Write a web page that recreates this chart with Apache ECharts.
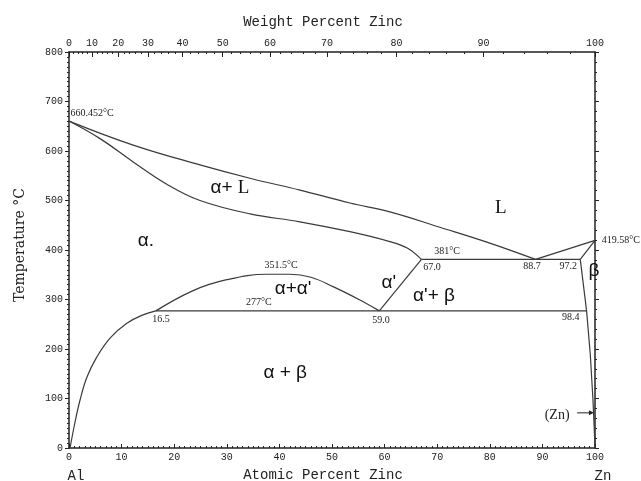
<!DOCTYPE html>
<html><head><meta charset="utf-8">
<script src="https://cdn.jsdelivr.net/npm/echarts@6/dist/echarts.min.js"></script>
<style>html,body{margin:0;padding:0;background:#fff}#c{width:641px;height:481px}</style>
</head><body><div id="c"></div>
<script>
// ---- data (atomic percent Zn, temperature °C) ----
const liquidusAl = [[0,660.452],[12.2,612],[24.9,572],[34.4,545],[43.9,521],[53.4,495],[61.0,477],[70.5,446],[80.0,414],[88.7,381]];
const liquidusZn = [[88.7,381],[100,419.58]];
const solidusAl = [[0,660.452],[5.9,625],[12.2,578],[18.6,533],[24.9,500],[34.4,473],[43.9,457],[53.4,437],[61.0,417],[64.3,404],[67.0,381]];
const eutectic = [[67.0,381],[97.2,381]];
const solidusZn = [[97.2,381],[100,419.58]];
const alphaPrimeBoundary = [[67.0,381],[59.0,277]];
const monotectoid = [[16.5,277],[98.4,277]];
const gapDome = [[16.5,277],[23.6,318],[30.0,340],[37.6,351],[42.0,351],[46.0,345],[50.2,326],[55.3,299],[59.0,277]];
const solvusAl = [[0.2,0],[1.1,50],[2.1,97],[3.4,143],[5.3,184],[7.8,222],[11.0,252],[14.1,269],[16.5,277]];
const solvusZn = [[97.2,381],[98.4,277],[99.1,190],[99.6,100],[99.85,40],[100,0]];

// tick labels
const weightTicks = [0,10,20,30,40,50,60,70,80,90,100];
const atomicTicks = [0,10,20,30,40,50,60,70,80,90,100];
const tempTicks = [0,100,200,300,400,500,600,700,800];

// annotations (data coords)
const annotations = [
  {text:'660.452°C', at:[0.3,677], kind:'small', align:'left'},
  {text:'351.5°C', at:[40.3,368], kind:'small'},
  {text:'277°C', at:[36.1,295], kind:'small'},
  {text:'381°C', at:[71.9,398], kind:'small'},
  {text:'67.0', at:[69.0,364], kind:'small'},
  {text:'88.7', at:[88.0,366], kind:'small'},
  {text:'97.2', at:[94.9,366], kind:'small'},
  {text:'419.58°C', at:[101.3,420], kind:'small', align:'left'},
  {text:'16.5', at:[17.5,259], kind:'small'},
  {text:'59.0', at:[59.3,257], kind:'small'},
  {text:'98.4', at:[95.4,263], kind:'small'},
  {text:'α+ {s|L}', at:[30.6,525], kind:'big'},
  {text:'{s|L}', at:[82.1,485], kind:'big'},
  {text:'α.', at:[14.6,418], kind:'big'},
  {text:'α+α\'', at:[42.6,321], kind:'big'},
  {text:'α\'', at:[60.8,333], kind:'big'},
  {text:'α\'+ β', at:[69.4,307], kind:'big'},
  {text:'β', at:[99.8,358], kind:'big'},
  {text:'α + β', at:[41.1,152], kind:'big'},
  {text:'(Zn)', at:[92.8,67], kind:'mid'}
];

function wtToAt(w){ const a=w/65.38, b=(100-w)/26.98; return 100*a/(a+b); }
const weightAt = weightTicks.map(wtToAt);
const minorW = []; for(let w=0; w<=100; w+=2) minorW.push(w);
const minorAt = minorW.map(wtToAt);

const MONO = 'Liberation Mono';
const AX = '#222';
const LINE = '#3a3a3a';

const chart = echarts.init(document.getElementById('c'), null, {renderer:'canvas'});

function ser(data, smooth){
  return {type:'line', data:data, xAxisIndex:0, yAxisIndex:0, showSymbol:false, symbol:'none',
    smooth: smooth ? 0.4 : false,
    lineStyle:{color:LINE, width:1.2}, silent:true, animation:false, z:3};
}

chart.setOption({
  animation:false,
  backgroundColor:'#fff',
  grid:{left:69, right:46, top:52, bottom:33, containLabel:false},
  xAxis:[
    {type:'value', min:0, max:100, interval:10, position:'bottom',
     axisLine:{onZero:false, lineStyle:{color:AX, width:1.5}},
     axisTick:{inside:true, length:4, lineStyle:{color:AX}},
     minorTick:{show:true, splitNumber:10, length:2, lineStyle:{color:AX}},
     axisLabel:{fontFamily:MONO, fontSize:10, color:AX, margin:4},
     splitLine:{show:false}},
    {type:'value', min:0, max:100, position:'top',
     axisLine:{onZero:false, lineStyle:{color:AX, width:1.5}},
     axisTick:{inside:true, length:5, customValues:weightAt, lineStyle:{color:AX}},
     axisLabel:{fontFamily:MONO, fontSize:10, color:AX, margin:4, customValues:weightAt,
       formatter:function(v){ let best=0; for(let i=0;i<weightAt.length;i++){ if(Math.abs(weightAt[i]-v)<Math.abs(weightAt[best]-v)) best=i; } return String(weightTicks[best]); }},
     splitLine:{show:false}},
    {type:'value', min:0, max:100, position:'top',
     axisLine:{show:false, onZero:false},
     axisTick:{inside:true, length:2, customValues:minorAt, lineStyle:{color:AX}},
     axisLabel:{show:false},
     splitLine:{show:false}}
  ],
  yAxis:[
    {type:'value', min:0, max:800, interval:100, position:'left',
     axisLine:{show:true, onZero:false, lineStyle:{color:AX, width:1.5}},
     axisTick:{show:true, inside:false, length:4, lineStyle:{color:AX}},
     minorTick:{show:true, splitNumber:10, length:2, lineStyle:{color:AX}},
     axisLabel:{fontFamily:MONO, fontSize:10, color:AX, margin:6},
     splitLine:{show:false}},
    {type:'value', min:0, max:800, interval:100, position:'right',
     axisLine:{show:true, onZero:false, lineStyle:{color:AX, width:1.5}},
     axisTick:{show:true, inside:false, length:4, lineStyle:{color:AX}},
     minorTick:{show:true, splitNumber:5, length:2, lineStyle:{color:AX}},
     axisLabel:{show:false},
     splitLine:{show:false}}
  ],
  series:[
    ser(liquidusAl, true), ser(liquidusZn, false), ser(solidusAl, true),
    ser(eutectic, false), ser(solidusZn, false), ser(alphaPrimeBoundary, false),
    ser(monotectoid, false), ser(gapDome, true), ser(solvusAl, true), ser(solvusZn, false)
  ]
});

const styles = {
  small:{font:'10px "Liberation Serif"', fill:'#222'},
  mid:{font:'14px "Liberation Serif"', fill:'#222'},
  big:{font:'19px "Liberation Sans"', fill:'#111'}
};
const els = annotations.map(function(a){
  const p = chart.convertToPixel({xAxisIndex:0, yAxisIndex:0}, a.at);
  const st = styles[a.kind];
  return {type:'text', x:p[0], y:p[1], silent:true, z:10,
    style:{text:a.text, font:st.font, fill:st.fill, align:a.align||'center', verticalAlign:'middle',
      rich:{s:{font:'19px "Liberation Serif"', fill:'#111'}}}};
});
// arrow for (Zn)
const a0 = chart.convertToPixel({xAxisIndex:0, yAxisIndex:0}, [96.6,71]);
const a1 = chart.convertToPixel({xAxisIndex:0, yAxisIndex:0}, [99.8,71]);
els.push({type:'line', silent:true, z:10, shape:{x1:a0[0], y1:a0[1], x2:a1[0]-4, y2:a1[1]}, style:{stroke:'#222', lineWidth:1}});
els.push({type:'polygon', silent:true, z:10, shape:{points:[[a1[0],a1[1]],[a1[0]-5,a1[1]-2.5],[a1[0]-5,a1[1]+2.5]]}, style:{fill:'#222'}});
// axis titles
els.push({type:'text', x:323, y:22, silent:true, style:{text:'Weight Percent Zinc', font:'14px "Liberation Mono"', fill:'#222', align:'center', verticalAlign:'middle'}});
els.push({type:'text', x:323, y:475, silent:true, style:{text:'Atomic Percent Zinc', font:'14px "Liberation Mono"', fill:'#222', align:'center', verticalAlign:'middle'}});
els.push({type:'text', x:76, y:476, silent:true, style:{text:'Al', font:'14px "Liberation Mono"', fill:'#222', align:'center', verticalAlign:'middle'}});
els.push({type:'text', x:603, y:476, silent:true, style:{text:'Zn', font:'14px "Liberation Mono"', fill:'#222', align:'center', verticalAlign:'middle'}});
els.push({type:'text', x:20, y:245, rotation:Math.PI/2, silent:true, style:{text:'Temperature °C', font:'14px "DejaVu Serif"', fill:'#222', align:'center', verticalAlign:'middle'}});
chart.setOption({graphic:{elements:els}});
</script>
</body></html>
